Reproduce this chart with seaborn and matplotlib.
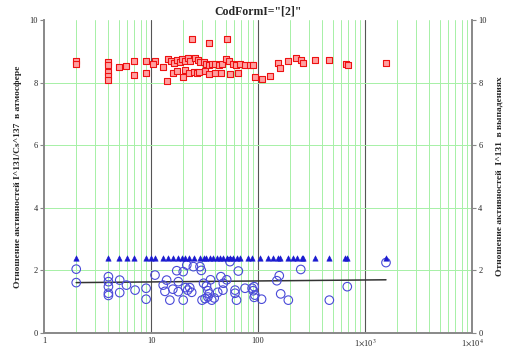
import numpy as np
import pandas as pd
import matplotlib
matplotlib.use("Agg")
import matplotlib.pyplot as plt
from matplotlib.ticker import FixedLocator
import seaborn as sns

sns.set_style("white")
plt.rcParams['font.family'] = ['Liberation Serif', 'DejaVu Serif']
plt.rcParams['mathtext.fontset'] = 'stix'

# 1. Data
# red squares: I131/Cs137 ratio in the atmosphere
red_x = [2.0, 2.0, 4.0, 4.0, 4.0, 4.0, 4.0, 5.0, 5.9, 7.0, 7.0, 9.0, 9.0, 10.9, 10.4,
         13.0, 14.0, 14.5, 15.5, 16.5, 17.5, 18.5, 19.5, 21.0, 22.0, 23.0,
         16.0, 17.5, 20.0, 21.0, 22.5, 25.0, 27.0, 24.0,
         26.0, 27.5, 29.0, 31.0, 33.0, 35.0, 37.0, 40.0, 43.0, 46.0, 50.0, 54.0,
         58.0, 62.0, 68.0, 76.0, 85.0,
         28.0, 32.0, 35.0, 40.0, 45.0, 55.0, 65.0, 34.8, 51.5,
         90.0, 93.0, 108, 129, 155, 160, 192, 226, 255, 265, 341, 464, 665, 690, 1570]
red_y = [8.68, 8.58, 8.66, 8.55, 8.35, 8.20, 8.08, 8.50, 8.52, 8.68, 8.24, 8.68, 8.30, 8.70, 8.58,
         8.50, 8.06, 8.75, 8.68, 8.62, 8.72, 8.66, 8.74, 8.70, 8.78, 8.68,
         8.30, 8.36, 8.18, 8.40, 8.32, 8.35, 8.30, 9.40,
         8.78, 8.72, 8.66, 8.66, 8.60, 8.55, 8.60, 8.60, 8.55, 8.60, 8.74, 8.68,
         8.60, 8.55, 8.60, 8.55, 8.55,
         8.35, 8.38, 8.28, 8.32, 8.30, 8.28, 8.30, 9.27, 9.38,
         8.56, 8.19, 8.10, 8.22, 8.62, 8.46, 8.70, 8.80, 8.72, 8.62, 8.72, 8.72, 8.60, 8.55, 8.62]

# blue triangles: constant level
tri_x = [2, 4, 5, 6, 7, 9, 10, 11, 13, 14.5, 16, 18, 19.5, 21, 22.5, 25, 28.5, 31, 33, 35.5,
         38, 41, 44, 47.5, 51, 55, 59, 63.5, 68, 81, 87, 104, 125, 139, 155, 160, 192, 214,
         230, 257, 265, 341, 464, 650, 683, 1571]
tri_y = [2.4] * len(tri_x)

# blue circles: I131 ratio in fallout
circ_x = [2.0, 2.0, 4.0, 4.0, 4.0, 4.0, 4.0, 5.1, 5.1, 5.9, 7.1, 9.0, 9.0, 10.9,
          13, 13.5, 14, 15, 16, 17.4, 18, 18, 20, 20, 21, 22, 23, 24,
          21.6, 24.9, 28.7, 29.5, 31, 33, 34, 35, 30, 32, 34, 37, 39, 36, 42,
          47.4, 45, 51, 47, 54.7, 61, 61, 63, 65.5, 75.6, 88, 90, 93.5, 92, 92,
          108, 150, 158, 163, 192, 251, 464, 683, 1571]
circ_y = [2.04, 1.61, 1.80, 1.64, 1.48, 1.27, 1.20, 1.69, 1.29, 1.53, 1.37, 1.43, 1.08, 1.85,
          1.53, 1.33, 1.69, 1.05, 1.40, 1.99, 1.64, 1.32, 1.96, 1.05, 1.45, 1.37, 1.45, 1.30,
          2.17, 2.12, 2.12, 2.00, 1.59, 1.50, 1.35, 1.25, 1.05, 1.10, 1.15, 1.05, 1.12, 1.70, 1.30,
          1.59, 1.80, 1.70, 1.37, 2.28, 1.37, 1.27, 1.05, 1.98, 1.43, 1.43, 1.35, 1.21, 1.48, 1.14,
          1.08, 1.67, 1.83, 1.25, 1.05, 2.03, 1.05, 1.48, 2.25]

# black trend line
line_x = [2, 1571]
line_y = [1.61, 1.70]

red = pd.DataFrame({'x': red_x, 'y': red_y})
tri = pd.DataFrame({'x': tri_x, 'y': tri_y})
circ = pd.DataFrame({'x': circ_x, 'y': circ_y})
trend = pd.DataFrame({'x': line_x, 'y': line_y})

# 2. Figure
fig = plt.figure(figsize=(5.07, 3.52), dpi=100)
ax = fig.add_axes([44 / 507, 19 / 352, 428 / 507, 313 / 352])

ax.set_xscale('log')
ax.set_xlim(1, 1e4)
ax.set_ylim(0, 10)

# grid: green minor verticals, dark decade lines, green horizontals
for d in [1, 10, 100, 1000]:
    for m in range(2, 10):
        ax.axvline(d * m, color='#a6f0a6', lw=0.7, zorder=0)
for d in [10, 100, 1000]:
    ax.axvline(d, color='#555555', lw=0.8, zorder=0)
for yv in [2, 4, 6, 8]:
    ax.axhline(yv, color='#a6f0a6', lw=0.7, zorder=0)

sns.lineplot(data=trend, x='x', y='y', ax=ax, color='#333333', lw=1.1, zorder=3)
sns.scatterplot(data=red, x='x', y='y', ax=ax, marker='s', s=18,
                facecolor='#ffa0a0', edgecolor='#ee1111', linewidth=0.8, zorder=4)
sns.scatterplot(data=circ, x='x', y='y', ax=ax, marker='o', s=38,
                facecolor='none', edgecolor='#4a4ad8', linewidth=0.8, zorder=4)
sns.scatterplot(data=tri, x='x', y='y', ax=ax, marker='^', s=15,
                color='#1a1ad0', edgecolor='#1a1ad0', linewidth=0.4, zorder=5)

ax.xaxis.set_major_locator(FixedLocator([1, 10, 100, 1000, 10000]))
ax.xaxis.set_minor_locator(FixedLocator([]))
ax.set_xticklabels(['1', '10', '100', r'1$\times$10$^{3}$', r'1$\times$10$^{4}$'])
ax.set_yticks([0, 2, 4, 6, 8, 10])
ax.tick_params(axis='y', labelsize=6, length=3, color='#888888', pad=1.5)
ax.tick_params(axis='x', labelsize=6, length=0, pad=3)

for side in ['left', 'bottom', 'right']:
    ax.spines[side].set_color('#888888')
    ax.spines[side].set_linewidth(1.2)
ax.spines['top'].set_visible(False)

ax.set_xlabel('')
ax.set_ylabel('Отношение активностей I^131/Cs^137  в атмосфере',
              fontsize=6.8, fontweight='bold', labelpad=5)
ax.set_title('CodFormI="[2]"', fontsize=8.5, fontweight='bold', pad=4)

ax2 = ax.twinx()
ax2.set_ylim(0, 10)
ax2.set_yticks([0, 2, 4, 6, 8, 10])
ax2.tick_params(axis='y', labelsize=6, length=3, color='#888888', pad=1.5)
ax2.spines['top'].set_visible(False)
for side in ['left', 'bottom', 'right']:
    ax2.spines[side].set_color('#888888')
    ax2.spines[side].set_linewidth(1.2)
ax2.set_ylabel('Отношение активностей  I^131  в выпадениях',
               fontsize=6.8, fontweight='bold', labelpad=6)

fig.savefig('out.png', dpi=100)
